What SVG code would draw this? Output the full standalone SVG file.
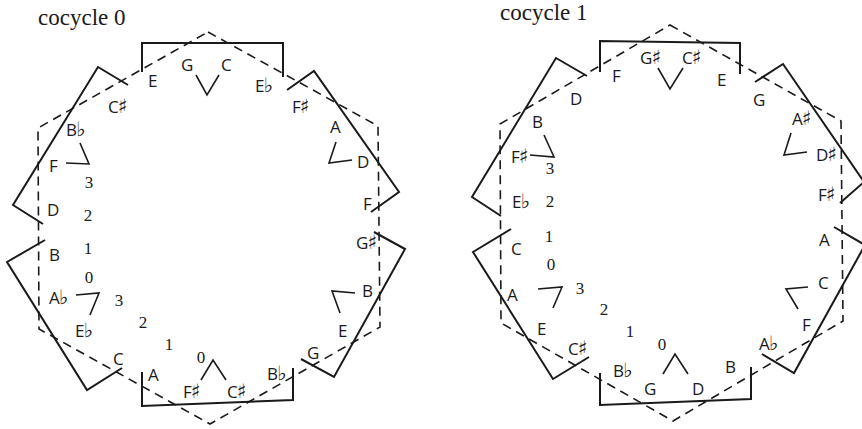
<svg xmlns="http://www.w3.org/2000/svg" width="862" height="429" viewBox="0 0 862 429">
  <style>
    .solid { fill: none; stroke: #1a1a1a; stroke-width: 2; stroke-linejoin: miter; stroke-linecap: butt; }
    .dash { fill: none; stroke: #1a1a1a; stroke-width: 1.6; stroke-dasharray: 9 6; }
    .mark { fill: none; stroke: #1a1a1a; stroke-width: 1.6; }
    .note { font-family: "Open Sans", "DejaVu Sans", sans-serif; font-size: 17px; fill: #1a1a1a; }
    .acc { font-family: "DejaVu Sans", sans-serif; font-size: 20px; }
    .num { font-family: "Liberation Serif", serif; font-size: 17px; fill: #1a1a1a; }
    .title { font-family: "Liberation Serif", serif; font-size: 23px; fill: #1a1a1a; }
  </style>
  <rect width="862" height="429" fill="#ffffff"/>

  <!-- ===== cocycle 0 ===== -->
  <g id="cocycle0">
    <text class="title" x="38" y="25">cocycle 0</text>

    <g id="c0-connectors">
      <polygon class="dash" points="208,32 378,126 380,327 210,424 39,329 38,128"/>
      <polyline class="solid" points="142,72 142,43 283,43 283,77"/>
      <polyline class="solid" points="287,90 314,71 399,192 371,212"/>
      <polyline class="solid" points="374,232 405,249 334,377 301,359"/>
      <polyline class="solid" points="293,368 293,400 142,406 142,372"/>
      <polyline class="solid" points="122,368 87,390 7,262 45,240"/>
      <polyline class="solid" points="43,224 13,205 98,67 128,85"/>
      <polyline class="mark" points="196,75 207,95 219,75"/>
      <polyline class="mark" points="336,142 329,163 352,160"/>
      <polyline class="mark" points="80,143 89,164 66,163"/>
      <polyline class="mark" points="76,295 99,293 90,315"/>
      <polyline class="mark" points="355,293 332,291 340,313"/>
      <polyline class="mark" points="201,380 213,360 226,380"/>
    </g>

    <g id="c0-notes">
      <g id="c0-E1"><text class="note" x="148" y="87">E</text></g>
      <g id="c0-G1"><text class="note" x="181" y="71">G</text></g>
      <g id="c0-C1"><text class="note" x="221" y="71">C</text></g>
      <g id="c0-Eb1"><text class="note" x="255" y="92">E<tspan class="acc" dx="-1">♭</tspan></text></g>
      <g id="c0-Cs1"><text class="note" x="108" y="113">C<tspan class="acc" dx="-1">♯</tspan></text></g>
      <g id="c0-Fs1"><text class="note" x="292" y="113">F<tspan class="acc" dx="-1">♯</tspan></text></g>
      <g id="c0-Bb1"><text class="note" x="66" y="136">B<tspan class="acc" dx="-1">♭</tspan></text></g>
      <g id="c0-A1"><text class="note" x="330" y="133">A</text></g>
      <g id="c0-D1"><text class="note" x="357" y="168">D</text></g>
      <g id="c0-F1"><text class="note" x="49" y="172">F</text></g>
      <g id="c0-D2"><text class="note" x="47" y="216">D</text></g>
      <g id="c0-F2"><text class="note" x="363" y="210">F</text></g>
      <g id="c0-Gs1"><text class="note" x="356" y="249">G<tspan class="acc" dx="-1">♯</tspan></text></g>
      <g id="c0-B1"><text class="note" x="49" y="261">B</text></g>
      <g id="c0-Ab1"><text class="note" x="49" y="304">A<tspan class="acc" dx="-1">♭</tspan></text></g>
      <g id="c0-B2"><text class="note" x="362" y="297">B</text></g>
      <g id="c0-Eb2"><text class="note" x="75" y="337">E<tspan class="acc" dx="-1">♭</tspan></text></g>
      <g id="c0-E2"><text class="note" x="338" y="337">E</text></g>
      <g id="c0-C2"><text class="note" x="113" y="365">C</text></g>
      <g id="c0-G2"><text class="note" x="307" y="359">G</text></g>
      <g id="c0-A2"><text class="note" x="148" y="381">A</text></g>
      <g id="c0-Fs2"><text class="note" x="183" y="398">F<tspan class="acc" dx="-1">♯</tspan></text></g>
      <g id="c0-Cs2"><text class="note" x="227" y="398">C<tspan class="acc" dx="-1">♯</tspan></text></g>
      <g id="c0-Bb2"><text class="note" x="267" y="380">B<tspan class="acc" dx="-1">♭</tspan></text></g>
    </g>

    <g id="c0-numbers" class="num" text-anchor="middle">
      <text x="89" y="188">3</text>
      <text x="88" y="221">2</text>
      <text x="88" y="254">1</text>
      <text x="89" y="283">0</text>
      <text x="119" y="306">3</text>
      <text x="143" y="328">2</text>
      <text x="169" y="350">1</text>
      <text x="201" y="363">0</text>
    </g>
  </g>

  <!-- ===== cocycle 1 ===== -->
  <g id="cocycle1">
    <text class="title" x="500" y="20">cocycle 1</text>

    <g id="c1-connectors">
      <polygon class="dash" points="670,25 841,121 843,321 673,421 501,323 500,124"/>
      <polyline class="solid" points="600,72 600,41 740,43 740,74"/>
      <polyline class="solid" points="755,82 783,64 864,182 840,203"/>
      <polyline class="solid" points="834,227 865,245 794,373 762,354"/>
      <polyline class="solid" points="751,367 751,399 600,405 600,373"/>
      <polyline class="solid" points="589,357 553,379 473,252 511,229"/>
      <polyline class="solid" points="501,216 472,197 556,58 587,76"/>
      <polyline class="mark" points="658,68 670,89 683,68"/>
      <polyline class="mark" points="791,133 784,155 807,152"/>
      <polyline class="mark" points="544,135 554,157 530,155"/>
      <polyline class="mark" points="538,289 562,287 553,308"/>
      <polyline class="mark" points="808,287 786,289 798,309"/>
      <polyline class="mark" points="663,374 675,354 688,374"/>
    </g>

    <g id="c1-notes">
      <g id="c1-F1"><text class="note" x="612" y="82">F</text></g>
      <g id="c1-Gs1"><text class="note" x="640" y="64">G<tspan class="acc" dx="-1">♯</tspan></text></g>
      <g id="c1-Cs1"><text class="note" x="682" y="64">C<tspan class="acc" dx="-1">♯</tspan></text></g>
      <g id="c1-E1"><text class="note" x="717" y="86">E</text></g>
      <g id="c1-D1"><text class="note" x="570" y="105">D</text></g>
      <g id="c1-G1"><text class="note" x="753" y="106">G</text></g>
      <g id="c1-B1"><text class="note" x="532" y="128">B</text></g>
      <g id="c1-As1"><text class="note" x="792" y="125">A<tspan class="acc" dx="-1">♯</tspan></text></g>
      <g id="c1-Ds1"><text class="note" x="816" y="161">D<tspan class="acc" dx="-1">♯</tspan></text></g>
      <g id="c1-Fs1"><text class="note" x="511" y="163">F<tspan class="acc" dx="-1">♯</tspan></text></g>
      <g id="c1-Fs2"><text class="note" x="818" y="201">F<tspan class="acc" dx="-1">♯</tspan></text></g>
      <g id="c1-Eb1"><text class="note" x="512" y="208">E<tspan class="acc" dx="-1">♭</tspan></text></g>
      <g id="c1-C1"><text class="note" x="511" y="255">C</text></g>
      <g id="c1-A1"><text class="note" x="819" y="246">A</text></g>
      <g id="c1-A2"><text class="note" x="507" y="301">A</text></g>
      <g id="c1-C2"><text class="note" x="818" y="289">C</text></g>
      <g id="c1-E2"><text class="note" x="537" y="335">E</text></g>
      <g id="c1-F2"><text class="note" x="802" y="331">F</text></g>
      <g id="c1-Cs2"><text class="note" x="568" y="355">C<tspan class="acc" dx="-1">♯</tspan></text></g>
      <g id="c1-Ab1"><text class="note" x="759" y="350">A<tspan class="acc" dx="-1">♭</tspan></text></g>
      <g id="c1-Bb1"><text class="note" x="613" y="377">B<tspan class="acc" dx="-1">♭</tspan></text></g>
      <g id="c1-B2"><text class="note" x="725" y="373">B</text></g>
      <g id="c1-G2"><text class="note" x="644" y="395">G</text></g>
      <g id="c1-D2"><text class="note" x="692" y="395">D</text></g>
    </g>

    <g id="c1-numbers" class="num" text-anchor="middle">
      <text x="550" y="174">3</text>
      <text x="550" y="207">2</text>
      <text x="549" y="242">1</text>
      <text x="551" y="270">0</text>
      <text x="580" y="294">3</text>
      <text x="604" y="315">2</text>
      <text x="630" y="337">1</text>
      <text x="662" y="350">0</text>
    </g>
  </g>
</svg>
